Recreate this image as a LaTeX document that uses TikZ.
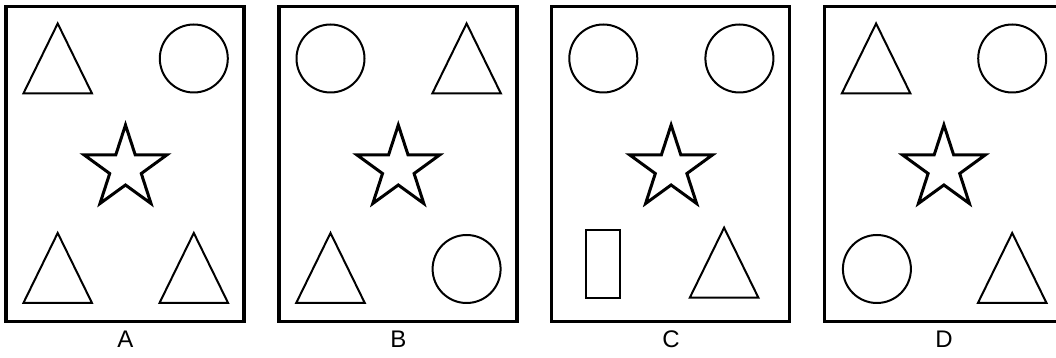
\documentclass[tikz,border=0pt]{standalone}
\usepackage{fontspec}
\setmainfont{Liberation Sans}
\usepackage{tikz}
\tikzset{
  frame/.style={draw=black, line width=3.5pt},
  fig/.style={draw=black, line width=2pt, line join=miter},
  starfig/.style={draw=black, line width=3pt, line join=miter},
  lab/.style={font=\fontsize{24}{24}\selectfont, anchor=base, inner sep=0pt},
  tri/.pic={\draw[fig] (-34.3,-35) -- (0,35) -- (34.3,-35) -- cycle;},
  ring/.pic={\draw[fig] (0,0) circle (34);},
  bar/.pic={\draw[fig] (-17,-34) rectangle (17,34);},
  starpic/.pic={\draw[starfig] (90:43.4) -- (126:16.6) -- (162:43.4) -- (198:16.6)
    -- (234:43.4) -- (270:16.6) -- (306:43.4) -- (342:16.6) -- (18:43.4) -- (54:16.6) -- cycle;},
}
\begin{document}
\begin{tikzpicture}[x=1pt,y=1pt]
\useasboundingbox (0,0) rectangle (1056,358);
% panels 238 x 315, 272.8 apart; last one runs off the right edge
\foreach \k/\letter/\tl/\tr in {0/A/tri/ring,1/B/ring/tri,2/C/ring/ring,3/D/tri/ring}{
  \pgfmathsetmacro\xo{6+272.8*\k}
  \draw[frame] (\xo,36.7) rectangle ++(238,314.8);
  \pic at (\xo+51.7,299.5) {\tl};
  \pic at (\xo+187.8,299.5) {\tr};
  \pic at (\xo+119.5,189.6) {starpic};
  \node[lab] (lab\letter) at (\xo+119.5,10) {\letter};
}
% bottom rows
\pic at (6+51.7,90) {tri};
\pic at (6+187.8,90) {tri};
\pic at (278.8+51.7,90) {tri};
\pic at (278.8+187.8,89) {ring};
\pic at (551.6+51.8,93.7) {bar};
\pic at (551.6+172.5,95.3) {tri};
\pic at (824.4+52.5,89) {ring};
\pic at (824.4+187.8,90) {tri};
\end{tikzpicture}
\end{document}
